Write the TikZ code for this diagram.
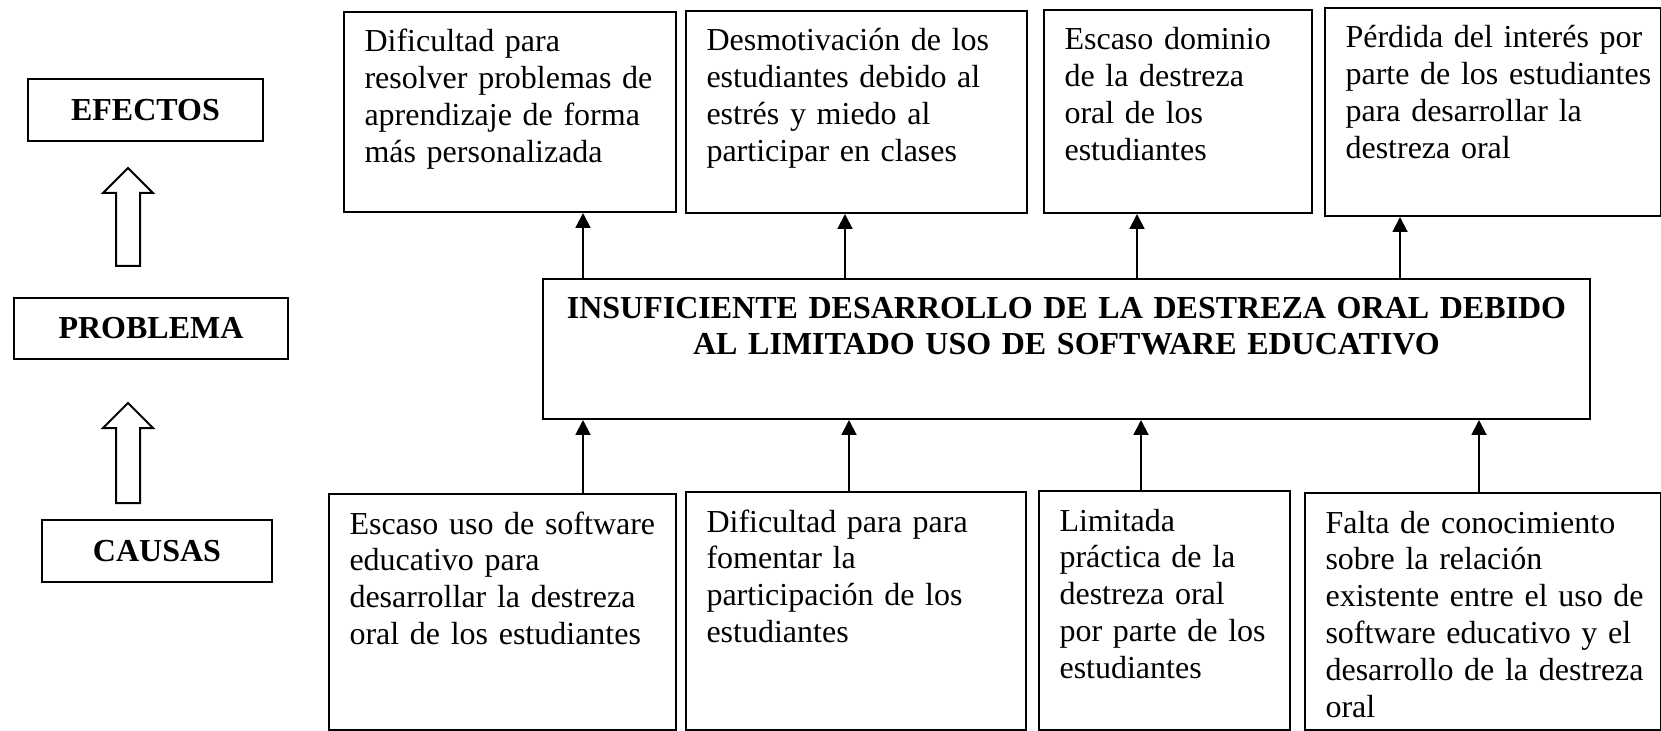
\documentclass[tikz,border=0pt]{standalone}
\usepackage{fontspec}
\setmainfont{Liberation Serif}
\usepackage{tikz}
\usetikzlibrary{arrows.meta}

\tikzset{
    caja/.style={draw, line width=0.75pt, inner sep=0pt, anchor=north west},
    titulo/.style={caja, font=\fontsize{12}{13.8}\selectfont\bfseries},
    texto/.style={anchor=base west, align=left, text width=150pt, inner sep=0pt, font=\fontsize{12}{13.8}\selectfont},
    flecha/.style={line width=0.75pt, -{Triangle[length=5.6pt, width=5.6pt]}},
    hueca/.style={draw, line width=0.75pt, fill=white, line join=miter}
}

\begin{document}
\begin{tikzpicture}[x=0.375pt, y=-0.375pt]
        \useasboundingbox (0,0) rectangle (1661,731);
        % columna de la izquierda
        \node[titulo, minimum width=88.125pt, minimum height=23.25pt] (efectos) at (27,78) {EFECTOS};
        \node[titulo, minimum width=102.75pt, minimum height=22.875pt] (problema) at (13,297) {PROBLEMA};
        \node[titulo, minimum width=86.25pt, minimum height=23.25pt] (causas) at (41,519) {CAUSAS};
        \foreach \t/\b in {168/266, 403/503} {
            \draw[hueca] (128,\t) -- (153,\t+25) -- (140,\t+25) -- (140,\b) -- (116,\b) -- (116,\t+25) -- (103,\t+25) -- cycle;
        }
        % efectos
        \node[caja, minimum width=124.5pt, minimum height=75pt] (e1) at (343,11) {};
        \node[caja, minimum width=127.875pt, minimum height=75.75pt] (e2) at (685,10) {};
        \node[caja, minimum width=100.5pt, minimum height=76.125pt] (e3) at (1043,9) {};
        \node[caja, minimum width=126pt, minimum height=78pt] (e4) at (1324,7) {};
        \node[texto] (e1t) at ([shift={(21,41)}]e1.north west) {Dificultad para\\resolver problemas de\\aprendizaje de forma\\más personalizada};
        \node[texto] (e2t) at ([shift={(21,41)}]e2.north west) {Desmotivación de los\\estudiantes debido al\\estrés y miedo al\\participar en clases};
        \node[texto] (e3t) at ([shift={(21,41)}]e3.north west) {Escaso dominio\\de la destreza\\oral de los\\estudiantes};
        \node[texto] (e4t) at ([shift={(21,41)}]e4.north west) {Pérdida del interés por\\parte de los estudiantes\\para desarrollar la\\destreza oral};
        % problema
        \node[caja, minimum width=392.625pt, minimum height=52.5pt] (prob) at (542,278) {};
        \node[texto, anchor=base, align=center, text width=390pt, font=\fontsize{12}{13.8}\selectfont\bfseries] (probt) at ([shift={(0,40)}]prob.north) {INSUFICIENTE DESARROLLO DE LA DESTREZA ORAL DEBIDO\\AL LIMITADO USO DE SOFTWARE EDUCATIVO};
        % causas
        \node[caja, minimum width=130.125pt, minimum height=88.5pt] (c1) at (328,493) {};
        \node[caja, minimum width=127.5pt, minimum height=89.25pt] (c2) at (685,491) {};
        \node[caja, minimum width=94.125pt, minimum height=89.625pt] (c3) at (1038,490) {};
        \node[caja, minimum width=133.5pt, minimum height=88.875pt] (c4) at (1304,492) {};
        \node[texto] (c1t) at ([shift={(21,41)}]c1.north west) {Escaso uso de software\\educativo para\\desarrollar la destreza\\oral de los estudiantes};
        \node[texto] (c2t) at ([shift={(21,41)}]c2.north west) {Dificultad para para\\fomentar la\\participación de los\\estudiantes};
        \node[texto] (c3t) at ([shift={(21,41)}]c3.north west) {Limitada\\práctica de la\\destreza oral\\por parte de los\\estudiantes};
        \node[texto] (c4t) at ([shift={(21,41)}]c4.north west) {Falta de conocimiento\\sobre la relación\\existente entre el uso de\\software educativo y el\\desarrollo de la destreza\\oral};
        % flechas
        \foreach \c/\x in {e1/583, e2/845, e3/1137, e4/1400} {
            \draw[flecha] (prob.north -| \x,0) -- (\c.south -| \x,0);
        }
        \foreach \c/\x in {c1/583, c2/849, c3/1141, c4/1479} {
            \draw[flecha] (\c.north -| \x,0) -- (prob.south -| \x,0);
        }
    \end{tikzpicture}
\end{document}
